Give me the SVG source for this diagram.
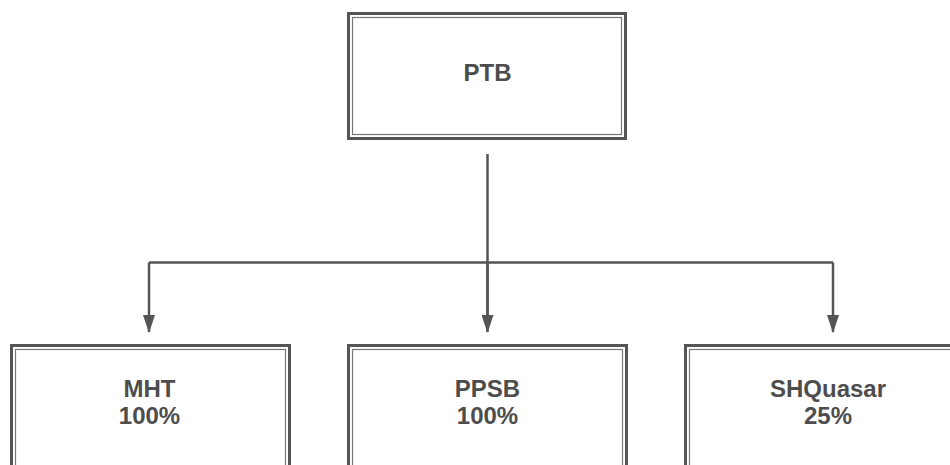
<svg xmlns="http://www.w3.org/2000/svg" width="950" height="465" viewBox="0 0 950 465">
<style>
.outer{fill:#fff;stroke:#555;stroke-width:3}
.inner{fill:none;stroke:#777;stroke-width:1.2}
.lbl{font-family:"Liberation Sans",Arial,Helvetica,sans-serif;font-weight:bold;font-size:24px;fill:#4d4d4d;text-anchor:middle}
.conn{fill:none;stroke:#555;stroke-width:2.5}
</style>
<defs>
<marker id="arr" markerUnits="userSpaceOnUse" markerWidth="18" markerHeight="12" refX="17" refY="6" orient="auto" viewBox="0 0 18 12">
<path d="M0,0 L18,6 L0,12 Z" fill="#555"/>
</marker>
</defs>
<rect width="950" height="465" fill="#fff"/>
<g id="connectors">
<path class="conn" d="M487.5,154 V316"/>
<path class="conn" d="M149,262.5 H833"/>
<path class="conn" d="M149,262.5 V332" marker-end="url(#arr)"/>
<path class="conn" d="M487.5,262.5 V332" marker-end="url(#arr)"/>
<path class="conn" d="M833,262.5 V332" marker-end="url(#arr)"/>
</g>
<g id="PTB">
<rect class="outer" x="348.5" y="13.5" width="277" height="125"/>
<rect class="inner" x="352.5" y="17.5" width="269" height="117"/>
<text class="lbl" x="487.5" y="81">PTB</text>
</g>
<g id="MHT">
<rect class="outer" x="11.5" y="345.5" width="278" height="130"/>
<rect class="inner" x="15.5" y="349.5" width="270" height="130"/>
<text class="lbl" x="149.5" y="397">MHT</text>
<text class="lbl" x="149.5" y="424">100%</text>
</g>
<g id="PPSB">
<rect class="outer" x="348.5" y="345.5" width="278" height="130"/>
<rect class="inner" x="352.5" y="349.5" width="270" height="130"/>
<text class="lbl" x="487.5" y="397">PPSB</text>
<text class="lbl" x="487.5" y="424">100%</text>
</g>
<g id="SHQuasar">
<rect class="outer" x="685.5" y="345.5" width="278" height="130"/>
<rect class="inner" x="689.5" y="349.5" width="270" height="130"/>
<text class="lbl" x="828" y="397">SHQuasar</text>
<text class="lbl" x="828" y="424">25%</text>
</g>
</svg>
